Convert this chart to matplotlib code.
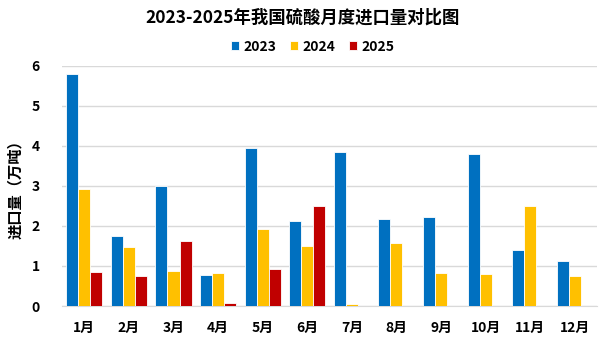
import numpy as np
import matplotlib
matplotlib.use("Agg")
import matplotlib.pyplot as plt

plt.rcParams['font.family'] = ['Noto Sans CJK SC', 'DejaVu Sans']

# 月份与各年度进口量（万吨）
months = ["1月", "2月", "3月", "4月", "5月", "6月",
          "7月", "8月", "9月", "10月", "11月", "12月"]
v2023 = [5.8, 1.75, 3.0, 0.775, 3.95, 2.125, 3.85, 2.175, 2.225, 3.8, 1.4, 1.125]
v2024 = [2.925, 1.475, 0.875, 0.825, 1.925, 1.5, 0.05, 1.575, 0.825, 0.8, 2.5, 0.75]
v2025 = [0.86, 0.75, 1.625, 0.075, 0.925, 2.5,
         np.nan, np.nan, np.nan, np.nan, np.nan, np.nan]
years = ["2023", "2024", "2025"]
colors = ["#0070C0", "#FFC000", "#C00000"]

fig = plt.figure(figsize=(6.05, 3.4), dpi=100)
ax = fig.add_axes([0.1025, 0.1, 0.8845, 0.706])

x = np.arange(len(months))
w = 0.27
for i, (vals, yr, c) in enumerate(zip([v2023, v2024, v2025], years, colors)):
  ax.bar(x + (i - 1) * w, vals, width=w, color=c, edgecolor="white",
         linewidth=0.6, label=yr, zorder=3)

ax.set_xlim(-0.5, len(months) - 0.5)
ax.set_ylim(0, 6)
ax.set_yticks(range(0, 7))
ax.set_xticks(x)
ax.set_xticklabels(months)
ax.grid(axis="y", color="#D9D9D9", linewidth=1, zorder=0)
for s in ["top", "right", "left"]:
  ax.spines[s].set_visible(False)
ax.spines["bottom"].set_color("#D9D9D9")
ax.tick_params(length=0)
ax.tick_params(axis="x", pad=11)
ax.tick_params(axis="y", pad=16)
for lbl in ax.get_xticklabels() + ax.get_yticklabels():
  lbl.set_fontsize(10)
  lbl.set_fontweight("bold")

ax.set_ylabel("进口量（万吨）", fontsize=11, fontweight="bold", labelpad=6)

fig.text(0.5, 0.947, "2023-2025年我国硫酸月度进口量对比图", ha="center",
         va="center", fontsize=12.5, fontweight="bold")
fig.legend(loc="center", bbox_to_anchor=(0.517, 0.863), ncol=3, frameon=False,
           prop={"size": 10, "weight": "bold"}, handlelength=0.58,
           handleheight=0.58, handletextpad=0.3, columnspacing=1.0)

fig.savefig("out.png", dpi=100)
